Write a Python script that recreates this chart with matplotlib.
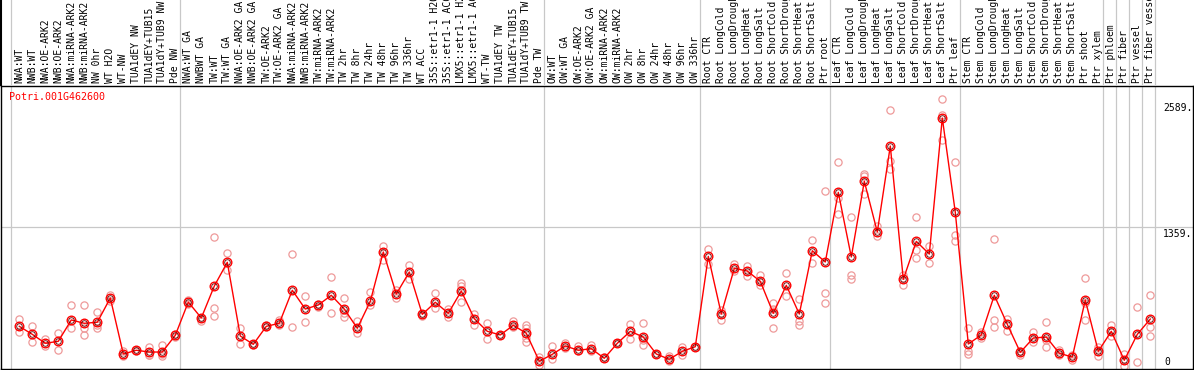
import matplotlib
matplotlib.use('Agg')
import matplotlib.pyplot as plt
from matplotlib.transforms import blended_transform_factory, offset_copy

gene = 'Potri.001G462600'

samples = [
    'NWA:WT', 'NWB:WT', 'NWA:OE-ARK2', 'NWB:OE-ARK2', 'NWA:miRNA-ARK2', 'NWB:miRNA-ARK2',
    'NW 0hr', 'WT H2O', 'WT-NW', 'TUA1dEY NW', 'TUA1dEY+TUB15', 'TUA1dY+TUB9 NW', 'Pde NW',
    'NWA:WT GA', 'NWBWT GA', 'TW:WT', 'TW:WT GA', 'NWA:OE-ARK2 GA', 'NWB:OE-ARK2 GA',
    'TW:OE-ARK2', 'TW:OE-ARK2 GA', 'NWA:miRNA-ARK2', 'NWB:miRNA-ARK2', 'TW:miRNA-ARK2',
    'TW:miRNA-ARK2', 'TW 2hr', 'TW 8hr', 'TW 24hr', 'TW 48hr', 'TW 96hr', 'TW 336hr',
    'WT ACC', '35S::etr1-1 H2O', '35S::etr1-1 ACC', 'LMX5::etr1-1 H2O', 'LMX5::etr1-1 ACC',
    'WT-TW', 'TUA1dEY TW', 'TUA1dEY+TUB15', 'TUA1dY+TUB9 TW', 'Pde TW',
    'OW:WT', 'OW:WT GA', 'OW:OE-ARK2', 'OW:OE-ARK2 GA', 'OW:miRNA-ARK2', 'OW:miRNA-ARK2',
    'OW 2hr', 'OW 8hr', 'OW 24hr', 'OW 48hr', 'OW 96hr', 'OW 336hr',
    'Root CTR', 'Root LongCold', 'Root LongDrought', 'Root LongHeat', 'Root LongSalt',
    'Root ShortCold', 'Root ShortDrought', 'Root ShortHeat', 'Root ShortSalt', 'Ptr root',
    'Leaf CTR', 'Leaf LongCold', 'Leaf LongDrought', 'Leaf LongHeat', 'Leaf LongSalt',
    'Leaf ShortCold', 'Leaf ShortDrought', 'Leaf ShortHeat', 'Leaf ShortSalt', 'Ptr leaf',
    'Stem CTR', 'Stem LongCold', 'Stem LongDrought', 'Stem LongHeat', 'Stem LongSalt',
    'Stem ShortCold', 'Stem ShortDrought', 'Stem ShortHeat', 'Stem ShortSalt', 'Ptr shoot',
    'Ptr xylem', 'Ptr phloem', 'Ptr fiber', 'Ptr vessel', 'Ptr fiber vessel',
]

group_sizes = [13, 28, 12, 10, 10, 11, 1, 1, 1, 1]

means = [
    410, 333, 247, 266, 471, 439, 449, 682, 144, 180, 163, 163, 324,
    643, 490, 797, 1025, 317, 237, 410, 439, 756, 576, 615, 708, 576, 391, 650,
    1124, 720, 932, 525, 641, 535, 749, 483, 362, 327, 420, 343, 74,
    141, 221, 180, 195, 103, 247, 362, 307, 144, 93, 170, 214,
    1082, 528, 967, 941, 842, 535, 804, 528, 1136, 1028,
    1697, 1076, 1803, 1316, 2142, 861, 1226, 1104, 2411, 1505,
    240, 327, 708, 429, 160, 298, 307, 151, 115, 663, 170,
    362, 84, 333, 480,
]

replicates = [
    [480, 352], [413, 256], [291, 218], [343, 180], [612, 394], [612, 329, 394],
    [547, 394, 423], [714, 650], [170, 125], [185, 173], [214, 137, 134],
    [230, 122, 144], [336, 307],
    [663, 624], [490, 458], [1265, 586, 512], [1111, 948], [394, 237], [240, 230],
    [423, 399], [468, 423], [1102, 400], [698, 449], [624, 593], [881, 535],
    [679, 497, 538], [458, 346], [740, 612], [1181, 1044], [759, 682], [1002, 867],
    [528, 509], [730, 586], [576, 499], [826, 641, 794], [531, 420], [439, 285],
    [331], [464, 400], [425, 259, 394, 298], [118, 36],
    [218, 99], [250, 202], [218, 170], [233, 176], [112], [247], [432, 291],
    [439, 233, 279], [144], [125, 77], [214, 134], [214],
    [1152, 1011], [567, 473], [1008, 944], [992, 896], [906, 810], [634, 394, 577],
    [922, 698], [672, 458, 425], [1236, 1015], [1710, 730, 634],
    [1985, 1489, 1642], [1460, 900, 864], [1873, 1681, 1851], [1370, 1274],
    [2485, 2001, 1921], [906, 810], [1460, 1146, 1066], [1178, 1018],
    [2589, 2442, 2202], [1988, 1290, 1232],
    [394, 170, 144], [355, 298], [1249, 471, 403], [483, 362], [176, 134],
    [352, 259], [449, 208, 279], [182, 134], [137, 86], [871, 468, 634], [211, 125],
    [425, 314], [147, 32], [595, 64], [708, 400, 314],
]

W, H = 1194, 370
fig = plt.figure(figsize=(W / 100, H / 100), dpi=100)
ax = fig.add_axes([1 / W, 1 / H, 1192 / W, 283 / H])
lab_ax = fig.add_axes([1 / W, 285 / H, 1192 / W, 85 / H])

n = len(samples)
xs = list(range(n))
xlim = ((1 - 19.3) / 13, (1193 - 19.3) / 13)

top_val = max(max(r) for r in replicates)
ymax = top_val * 1.05

sep_color = '#c8c8c8'
ends = [-1]
for g in group_sizes:
    ends.append(ends[-1] + g)
for a in (ax, lab_ax):
    for e in ends:
        a.axvline(e + 0.385, color=sep_color, lw=0.9, zorder=0)
ax.axhline(ymax / 2, color=sep_color, lw=0.9, zorder=0)

for i, reps in enumerate(replicates):
    ax.plot([i] * len(reps), reps, 'o', ms=5.2, mfc='none', mec='#ee9a9a', mew=0.9, zorder=2)

ax.plot(xs, means, '-', color='red', lw=1.0, zorder=3)
ax.plot(xs, means, 'o', ms=6.2, mfc='none', mec='red', mew=1.0, zorder=4)
ax.plot(xs, means, 'o', ms=4.0, mfc='none', mec='#600000', mew=0.6, zorder=5)

ax.set_xlim(*xlim)
ax.set_ylim(0, ymax)
ax.set_xticks([])
ax.set_yticks([])
for s in ax.spines.values():
    s.set_color('black')
    s.set_linewidth(1.0)

mono = 'DejaVu Sans Mono'
ax.text(0.007, 0.962, gene, transform=ax.transAxes, color='red', fontsize=7.2,
        family=mono, va='center', ha='left')

tr = blended_transform_factory(ax.transAxes, ax.transData)
ax.text(0.975, top_val, f'{int(top_val)}.', transform=offset_copy(tr, fig=fig, y=-4, units='dots'),
        fontsize=7, family=mono, va='top', ha='left')
ax.text(0.975, ymax / 2, f'{int(ymax / 2)}.', transform=offset_copy(tr, fig=fig, y=-2, units='dots'),
        fontsize=7, family=mono, va='top', ha='left')
ax.text(0.976, 0, '0', transform=offset_copy(tr, fig=fig, y=2, units='dots'),
        fontsize=7, family=mono, va='bottom', ha='left')

lab_ax.set_xlim(*xlim)
lab_ax.set_ylim(0, 85)
lab_ax.axis('off')
lab_ax.plot([xlim[0], xlim[0]], [0, 85], color='black', lw=1.5, clip_on=False)
for i, s in enumerate(samples):
    lab_ax.text(i, 2, s, rotation=90, fontsize=7, family=mono, va='bottom', ha='center')

fig.savefig('out.png', dpi=100)
